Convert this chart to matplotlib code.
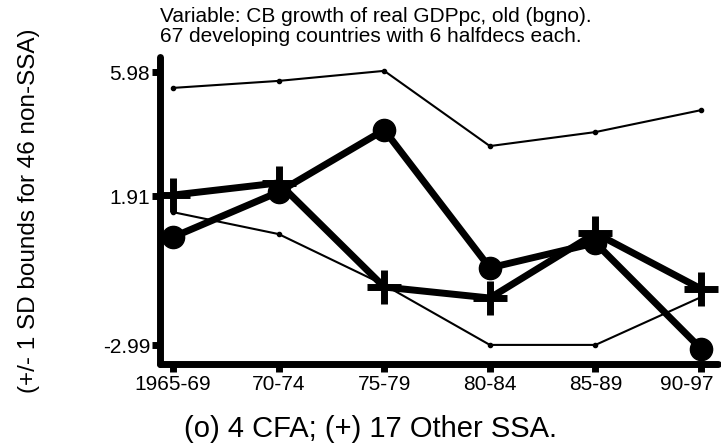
import numpy as np
import matplotlib
matplotlib.use('Agg')
import matplotlib.pyplot as plt
import matplotlib.transforms as mtransforms

plt.rcParams['font.family'] = ['Liberation Sans', 'DejaVu Sans']

# half-decade periods
periods = ['1965-69', '70-74', '75-79', '80-84', '85-89', '90-97']

# growth of real GDP per capita, group means
cfa = [0.56, 2.04, 4.08, -0.45, 0.37, -3.11]
other_ssa = [1.94, 2.34, -1.08, -1.44, 0.69, -1.14]

# +/- 1 SD band of the non-SSA countries
upper = [5.46, 5.69, 6.02, 3.55, 4.01, 4.73]
lower = [1.38, 0.66, -1.01, -2.98, -2.98, -1.41]

yticks = [-2.99, 1.91, 5.98]

W, H = 721, 446
fig = plt.figure(figsize=(W / 100, H / 100), dpi=100)
ax = fig.add_axes([160 / W, (H - 364) / H, (718 - 160) / W, (364 - 57) / H])

x = np.arange(len(periods))

ax.plot(x, upper, color='black', lw=1.5, marker='o', ms=3, zorder=2)
ax.plot(x, lower, color='black', lw=1.5, marker='o', ms=3, zorder=2)
ax.plot(x, cfa, color='black', lw=5, marker='o', ms=16,
        solid_capstyle='round', solid_joinstyle='round', zorder=3)
ax.plot(x, other_ssa, color='black', lw=5, marker='+', ms=24, mew=5,
        solid_capstyle='round', solid_joinstyle='round', zorder=3)

ax.set_xlim(-0.123, 5.16)
ax.set_ylim(-3.607, 6.475)

for s in ['top', 'right']:
    ax.spines[s].set_visible(False)
for s in ['left', 'bottom']:
    ax.spines[s].set_linewidth(5)
    ax.spines[s].set_capstyle('round')

ax.set_xticks(x)
ax.set_xticklabels(periods, fontsize=15)
ax.set_yticks(yticks)
ax.set_yticklabels(['%.2f' % v for v in yticks], fontsize=15)
ax.tick_params(direction='out', length=6, width=5, pad=1)
ax.tick_params(axis='x', pad=2)

# keep the last period label inside the figure
last = ax.get_xticklabels()[-1]
last.set_transform(last.get_transform() +
                   mtransforms.ScaledTranslation(-14 / 100, 0, fig.dpi_scale_trans))

fig.text(160 / W, 1 - 22 / H, 'Variable: CB growth of real GDPpc, old (bgno).',
         fontsize=15, ha='left', va='baseline')
fig.text(160 / W, 1 - 42 / H, '67 developing countries with 6 halfdecs each.',
         fontsize=15, ha='left', va='baseline')

fig.text(370 / W, 1 - 429 / H, '(o) 4 CFA; (+) 17 Other SSA.',
         fontsize=21, ha='center', va='center')
fig.text(29 / W, 1 - 211 / H, '(+/- 1 SD bounds for 46 non-SSA)',
         fontsize=17.5, ha='center', va='center', rotation=90)

fig.savefig('out.png', dpi=100)
